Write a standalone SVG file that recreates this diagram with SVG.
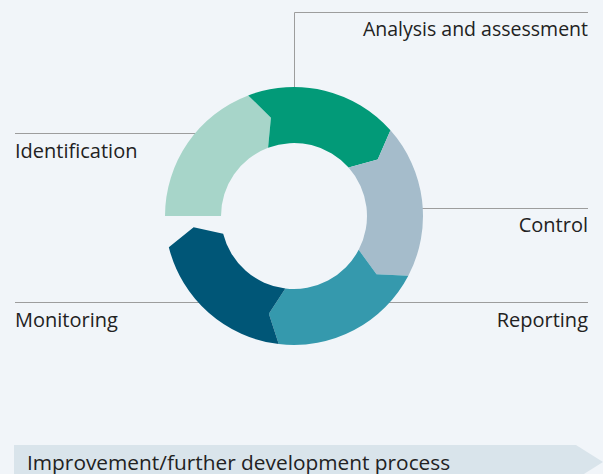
<svg xmlns="http://www.w3.org/2000/svg" width="603" height="474" viewBox="0 0 603 474">
<style>
.lbl{font-family:"Open Sans","Noto Sans","Liberation Sans",sans-serif;font-size:20px;fill:#222;}
.big{font-size:20.85px;}
.sm{font-size:19.5px;}
.r{text-anchor:end;}
.lead{fill:none;stroke:#9d9d9d;stroke-width:1;}
</style>
<rect x="0" y="0" width="603" height="474" fill="#f1f5f9"/>
<g id="connectors">
<polyline class="lead" points="294.5,100 294.5,12.5 588,12.5"/>
<line class="lead" x1="15" y1="133.5" x2="205" y2="133.5"/>
<line class="lead" x1="15" y1="302.5" x2="210" y2="302.5"/>
<line class="lead" x1="410" y1="208.5" x2="588" y2="208.5"/>
<line class="lead" x1="385" y1="302.5" x2="588" y2="302.5"/>
</g>
<g id="identification">
<path fill="#a7d5c9" d="M165,216 A129,129 0 0 1 248.19,95.41 L270.93,117.67 L268.08,147.76 A73,73 0 0 0 221,216 Z"/>
<text class="lbl" x="15" y="158">Identification</text>
</g>
<g id="analysis">
<path fill="#029a78" d="M248.19,95.41 A129,129 0 0 1 390.47,130.36 L377.73,159.52 L348.59,167.54 A73,73 0 0 0 268.08,147.76 L270.93,117.67 Z"/>
<text class="lbl sm r" x="588" y="36">Analysis and assessment</text>
</g>
<g id="control">
<path fill="#a5bccb" d="M390.47,130.36 A129,129 0 0 1 408.32,275.77 L376.53,274.22 L358.69,249.82 A73,73 0 0 0 348.59,167.54 L377.73,159.52 Z"/>
<text class="lbl r" x="588" y="232">Control</text>
</g>
<g id="reporting">
<path fill="#3599ad" d="M408.32,275.77 A129,129 0 0 1 278.73,344.10 L268.88,313.83 L285.36,288.49 A73,73 0 0 0 358.69,249.82 L376.53,274.22 Z"/>
<text class="lbl r" x="588" y="327">Reporting</text>
</g>
<g id="monitoring">
<path fill="#005677" d="M278.73,344.10 A129,129 0 0 1 168.83,247.21 L193.63,227.26 L223.17,233.66 A73,73 0 0 0 285.36,288.49 L268.88,313.83 Z"/>
<text class="lbl" x="15" y="327">Monitoring</text>
</g>
<g id="process">
<polygon fill="#d9e4eb" points="14,445 576,445 603,462 576,479 14,479"/>
<text class="lbl big" x="27" y="469.5">Improvement/further development process</text>
</g>
</svg>
